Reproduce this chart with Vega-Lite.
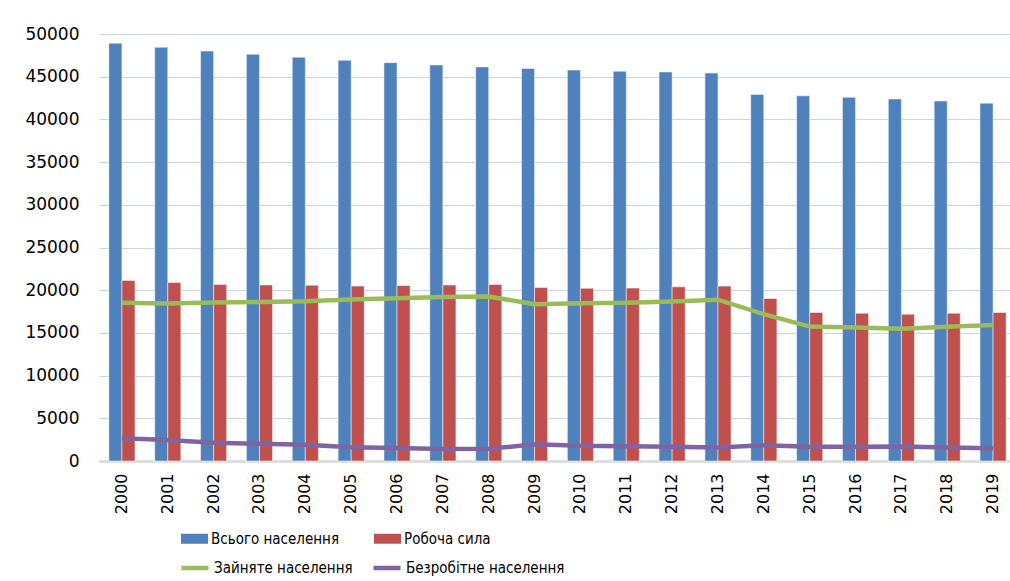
{
  "$schema": "https://vega.github.io/schema/vega-lite/v6.json",
  "width": 917,
  "height": 427,
  "autosize": {"type": "none"},
  "padding": {"left": 99, "top": 34, "right": 0, "bottom": 120},
  "background": "white",
  "config": {
    "view": {"stroke": null},
    "axis": {"labelColor": "#000000", "labelFont": "DejaVu Sans"}
  },
  "datasets": {
    "bars": [
      {"year": "2000", "series": "Всього населення", "value": 48923},
      {"year": "2001", "series": "Всього населення", "value": 48457},
      {"year": "2002", "series": "Всього населення", "value": 48003},
      {"year": "2003", "series": "Всього населення", "value": 47622},
      {"year": "2004", "series": "Всього населення", "value": 47281},
      {"year": "2005", "series": "Всього населення", "value": 46929},
      {"year": "2006", "series": "Всього населення", "value": 46646},
      {"year": "2007", "series": "Всього населення", "value": 46373},
      {"year": "2008", "series": "Всього населення", "value": 46144},
      {"year": "2009", "series": "Всього населення", "value": 45963},
      {"year": "2010", "series": "Всього населення", "value": 45779},
      {"year": "2011", "series": "Всього населення", "value": 45634},
      {"year": "2012", "series": "Всього населення", "value": 45553},
      {"year": "2013", "series": "Всього населення", "value": 45426},
      {"year": "2014", "series": "Всього населення", "value": 42929},
      {"year": "2015", "series": "Всього населення", "value": 42760},
      {"year": "2016", "series": "Всього населення", "value": 42585},
      {"year": "2017", "series": "Всього населення", "value": 42386},
      {"year": "2018", "series": "Всього населення", "value": 42153},
      {"year": "2019", "series": "Всього населення", "value": 41902},
      {"year": "2000", "series": "Робоча сила", "value": 21150},
      {"year": "2001", "series": "Робоча сила", "value": 20894},
      {"year": "2002", "series": "Робоча сила", "value": 20670},
      {"year": "2003", "series": "Робоча сила", "value": 20618},
      {"year": "2004", "series": "Робоча сила", "value": 20582},
      {"year": "2005", "series": "Робоча сила", "value": 20482},
      {"year": "2006", "series": "Робоча сила", "value": 20545},
      {"year": "2007", "series": "Робоча сила", "value": 20606},
      {"year": "2008", "series": "Робоча сила", "value": 20676},
      {"year": "2009", "series": "Робоча сила", "value": 20322},
      {"year": "2010", "series": "Робоча сила", "value": 20221},
      {"year": "2011", "series": "Робоча сила", "value": 20248},
      {"year": "2012", "series": "Робоча сила", "value": 20394},
      {"year": "2013", "series": "Робоча сила", "value": 20478},
      {"year": "2014", "series": "Робоча сила", "value": 19035},
      {"year": "2015", "series": "Робоча сила", "value": 17396},
      {"year": "2016", "series": "Робоча сила", "value": 17303},
      {"year": "2017", "series": "Робоча сила", "value": 17194},
      {"year": "2018", "series": "Робоча сила", "value": 17296},
      {"year": "2019", "series": "Робоча сила", "value": 17382}
    ],
    "lines": [
      {"year": "2000", "series": "Зайняте населення", "value": 18521},
      {"year": "2001", "series": "Зайняте населення", "value": 18452},
      {"year": "2002", "series": "Зайняте населення", "value": 18573},
      {"year": "2003", "series": "Зайняте населення", "value": 18620},
      {"year": "2004", "series": "Зайняте населення", "value": 18700},
      {"year": "2005", "series": "Зайняте населення", "value": 18920},
      {"year": "2006", "series": "Зайняте населення", "value": 19050},
      {"year": "2007", "series": "Зайняте населення", "value": 19200},
      {"year": "2008", "series": "Зайняте населення", "value": 19252},
      {"year": "2009", "series": "Зайняте населення", "value": 18366},
      {"year": "2010", "series": "Зайняте населення", "value": 18480},
      {"year": "2011", "series": "Зайняте населення", "value": 18516},
      {"year": "2012", "series": "Зайняте населення", "value": 18691},
      {"year": "2013", "series": "Зайняте населення", "value": 18886},
      {"year": "2014", "series": "Зайняте населення", "value": 17188},
      {"year": "2015", "series": "Зайняте населення", "value": 15742},
      {"year": "2016", "series": "Зайняте населення", "value": 15626},
      {"year": "2017", "series": "Зайняте населення", "value": 15496},
      {"year": "2018", "series": "Зайняте населення", "value": 15718},
      {"year": "2019", "series": "Зайняте населення", "value": 15935},
      {"year": "2000", "series": "Безробітне населення", "value": 2656},
      {"year": "2001", "series": "Безробітне населення", "value": 2455},
      {"year": "2002", "series": "Безробітне населення", "value": 2141},
      {"year": "2003", "series": "Безробітне населення", "value": 2008},
      {"year": "2004", "series": "Безробітне населення", "value": 1907},
      {"year": "2005", "series": "Безробітне населення", "value": 1601},
      {"year": "2006", "series": "Безробітне населення", "value": 1515},
      {"year": "2007", "series": "Безробітне населення", "value": 1418},
      {"year": "2008", "series": "Безробітне населення", "value": 1425},
      {"year": "2009", "series": "Безробітне населення", "value": 1959},
      {"year": "2010", "series": "Безробітне населення", "value": 1785},
      {"year": "2011", "series": "Безробітне населення", "value": 1733},
      {"year": "2012", "series": "Безробітне населення", "value": 1657},
      {"year": "2013", "series": "Безробітне населення", "value": 1577},
      {"year": "2014", "series": "Безробітне населення", "value": 1847},
      {"year": "2015", "series": "Безробітне населення", "value": 1655},
      {"year": "2016", "series": "Безробітне населення", "value": 1678},
      {"year": "2017", "series": "Безробітне населення", "value": 1698},
      {"year": "2018", "series": "Безробітне населення", "value": 1579},
      {"year": "2019", "series": "Безробітне населення", "value": 1488}
    ]
  },
  "layer": [
    {
      "data": {"name": "bars"},
      "mark": {"type": "bar", "stroke": "#FFFFFF", "strokeOpacity": 0.5, "strokeWidth": 1},
      "encoding": {
        "x": {
          "field": "year", "type": "nominal",
          "scale": {"paddingInner": 0.43, "paddingOuter": 0.215},
          "axis": {
            "title": null, "labelAngle": -90, "labelFontSize": 16, "labelPadding": 12,
            "ticks": false, "domainColor": "#D9D9D9", "domainWidth": 2.5, "grid": false
          }
        },
        "xOffset": {
          "field": "series", "type": "nominal",
          "sort": ["Всього населення", "Робоча сила"],
          "scale": {"paddingInner": 0, "paddingOuter": 0}
        },
        "y": {
          "field": "value", "type": "quantitative",
          "scale": {"domain": [0, 50000], "nice": false},
          "axis": {
            "title": null, "values": [0, 5000, 10000, 15000, 20000, 25000, 30000, 35000, 40000, 45000, 50000],
            "format": "d", "labelFontSize": 17, "labelPadding": 20, "ticks": false, "domain": false,
            "grid": true, "gridColor": "#C8D6EA", "gridWidth": 1.2
          }
        },
        "fill": {
          "field": "series", "type": "nominal",
          "sort": ["Всього населення", "Робоча сила"],
          "scale": {"domain": ["Всього населення", "Робоча сила"], "range": ["#4F81BD", "#C0504D"]},
          "legend": {
            "title": null, "orient": "none", "legendX": 82, "legendY": 491,
            "direction": "horizontal", "columns": 2, "columnPadding": 34,
            "symbolType": "M-1,-0.37H1V0.37H-1Z", "symbolSize": 729, "symbolStrokeWidth": 0,
            "labelFont": "Liberation Sans Narrow, DejaVu Sans Condensed, Roboto Condensed, Liberation Sans", "labelFontSize": 15,
            "labelColor": "#000000", "labelOffset": 3, "labelLimit": 400
          }
        }
      }
    },
    {
      "data": {"name": "lines"},
      "mark": {"type": "line", "strokeWidth": 4.5},
      "encoding": {
        "x": {"field": "year", "type": "nominal"},
        "y": {"field": "value", "type": "quantitative"},
        "stroke": {
          "field": "series", "type": "nominal",
          "sort": ["Зайняте населення", "Безробітне населення"],
          "scale": {"domain": ["Зайняте населення", "Безробітне населення"], "range": ["#9BBB59", "#8064A2"]},
          "legend": {
            "title": null, "orient": "none", "legendX": 80, "legendY": 518,
            "direction": "horizontal", "columns": 2, "columnPadding": 11,
            "symbolType": "stroke", "symbolSize": 729, "symbolStrokeWidth": 4.5,
            "labelFont": "Liberation Sans Narrow, DejaVu Sans Condensed, Roboto Condensed, Liberation Sans", "labelFontSize": 15,
            "labelColor": "#000000", "labelOffset": 3, "labelLimit": 400
          }
        }
      }
    }
  ]
}
